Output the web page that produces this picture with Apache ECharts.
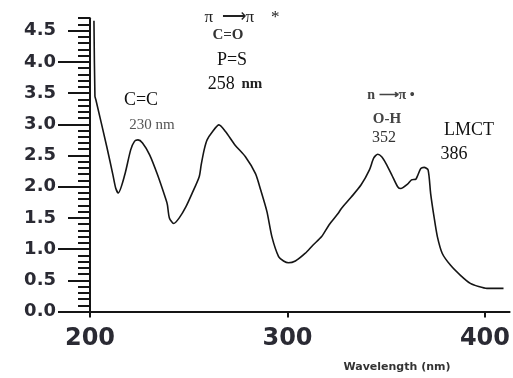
<!DOCTYPE html>
<html>
<head>
<meta charset="utf-8">
<script src="https://cdn.jsdelivr.net/npm/echarts@6/dist/echarts.min.js"></script>
<style>
  html, body { margin: 0; padding: 0; background: #fff; }
  #chart { width: 513px; height: 378px; }
</style>
</head>
<body>
<div id="chart"></div>
<script>
// UV-Vis absorption spectrum: wavelength (nm) vs absorbance
const wavelength = [
  202, 202.5, 203, 208.5, 211.6, 213, 214.3, 217.6, 220.6, 222.6, 224.3, 226.6,
  230.2, 234.2, 238.5, 239.2, 240.2, 242.4, 245.2, 248.6, 251.8, 255.3, 256.3,
  257.8, 259.3, 262.0, 265.3, 268.7, 273.4, 278.7, 283.8, 286.4, 289.6, 292.1,
  295.5, 298.0, 300.5, 304.0, 308.9, 313.1, 317.3, 321.1, 325.6, 327.3, 332.2,
  337.3, 341.5, 343.7, 345.7, 347.7, 349.9, 352.8, 355.8, 357.4, 360.8, 362.8,
  365.0, 365.8, 367.5, 369.2, 371.2, 372.5, 374.2, 375.9, 378.4, 382.6, 387.6,
  392.6, 396.8, 401.0, 409.4
];
const absorbance = [
  4.66, 3.45, 3.39, 2.64, 2.19, 1.98, 1.90, 2.19, 2.59, 2.73, 2.75, 2.70,
  2.51, 2.19, 1.79, 1.71, 1.50, 1.41, 1.50, 1.68, 1.90, 2.16, 2.35,
  2.59, 2.75, 2.88, 2.99, 2.88, 2.67, 2.48, 2.21, 1.95, 1.60, 1.20,
  0.88, 0.81, 0.78, 0.81, 0.93, 1.07, 1.20, 1.39, 1.57, 1.65, 1.83,
  2.03, 2.27, 2.46, 2.52, 2.48, 2.37, 2.19, 2.00, 1.97, 2.04, 2.11,
  2.12, 2.17, 2.29, 2.31, 2.27, 1.89, 1.52, 1.20, 0.93, 0.74, 0.58,
  0.45, 0.40, 0.37, 0.37
];
const xTicks = [200, 300, 400];
const yTicks = [0.0, 0.5, 1.0, 1.5, 2.0, 2.5, 3.0, 3.5, 4.0, 4.5];
const yWholeTicks = [0, 1, 2, 3, 4];

const xMin = 200, xMax = 412.5;
const yMin = 0, yMax = 4.7;

const points = wavelength.map((w, i) => [w, absorbance[i]]);

const chart = echarts.init(document.getElementById('chart'));
const ink = '#151515';
const labelInk = '#2a2a33';
const serif = '"Liberation Serif", "Times New Roman", serif';
const sans = '"DejaVu Sans", Verdana, sans-serif';

chart.setOption({
  backgroundColor: '#ffffff',
  animation: false,
  grid: { left: 90, right: 0, top: 18.2, bottom: 66.5 },
  xAxis: {
    type: 'value',
    min: xMin,
    max: xMax,
    interval: 100,
    axisLine: { show: true, lineStyle: { color: ink, width: 2 } },
    axisTick: { show: true, inside: false, length: 6, lineStyle: { color: ink, width: 2 },
                customValues: xTicks },
    axisLabel: {
      customValues: xTicks,
      margin: 15,
      fontSize: 24,
      fontWeight: 'bold',
      fontFamily: sans,
      color: labelInk
    },
    splitLine: { show: false }
  },
  yAxis: [
    {
      type: 'value',
      min: yMin,
      max: yMax,
      interval: 0.5,
      axisLine: { show: true, lineStyle: { color: ink, width: 2 } },
      axisTick: { show: true, inside: false, length: 22, lineStyle: { color: ink, width: 2 },
                  customValues: yTicks },
      axisLabel: {
        customValues: yTicks,
        margin: 34,
        fontSize: 18,
        fontWeight: 'bold',
        fontFamily: sans,
        color: labelInk,
        formatter: v => v.toFixed(1)
      },
      splitLine: { show: false }
    },
    {
      // longer ticks at whole units
      type: 'value',
      min: yMin,
      max: yMax,
      interval: 1,
      position: 'left',
      axisLine: { show: false },
      axisTick: { show: true, inside: false, length: 32, lineStyle: { color: ink, width: 2 },
                  customValues: yWholeTicks },
      axisLabel: { show: false },
      splitLine: { show: false }
    },
    {
      // short ticks every 0.1
      type: 'value',
      min: yMin,
      max: yMax,
      interval: 0.1,
      position: 'left',
      axisLine: { show: false },
      axisTick: { show: true, inside: false, length: 12, lineStyle: { color: ink, width: 2 } },
      axisLabel: { show: false },
      splitLine: { show: false }
    }
  ],
  series: [{
    type: 'line',
    data: points,
    showSymbol: false,
    smooth: 0.25,
    clip: true,
    lineStyle: { color: ink, width: 1.6 }
  }],
  graphic: [
    { type: 'text', x: 397, y: 367,
      style: { text: 'Wavelength (nm)', fontSize: 11, fontWeight: 'bold',
               fontFamily: sans, fill: '#333',
               align: 'center', verticalAlign: 'middle' } },
    { type: 'text', x: 242, y: 18,
      style: { text: 'π  ⟶π    *', fontSize: 17, fontFamily: serif, fill: '#222',
               align: 'center', verticalAlign: 'middle' } },
    { type: 'text', x: 228, y: 35,
      style: { text: 'C=O', fontSize: 15, fontWeight: 'bold', fontFamily: serif, fill: '#333',
               align: 'center', verticalAlign: 'middle' } },
    { type: 'text', x: 232, y: 60,
      style: { text: 'P=S', fontSize: 18, fontFamily: serif, fill: '#111',
               align: 'center', verticalAlign: 'middle' } },
    { type: 'text', x: 235, y: 84,
      style: { rich: {
                 n: { fontSize: 18, fontFamily: serif, fill: '#111' },
                 u: { fontSize: 15, fontWeight: 'bold', fontFamily: serif, fill: '#222' }
               },
               text: '{n|258}  {u|nm}', align: 'center', verticalAlign: 'middle' } },
    { type: 'text', x: 141, y: 100,
      style: { text: 'C=C', fontSize: 18, fontFamily: serif, fill: '#111',
               align: 'center', verticalAlign: 'middle' } },
    { type: 'text', x: 152, y: 125,
      style: { text: '230 nm', fontSize: 15, fontFamily: serif, fill: '#555',
               align: 'center', verticalAlign: 'middle' } },
    { type: 'text', x: 391, y: 95,
      style: { text: 'n ⟶π •', fontSize: 14, fontWeight: 'bold', fontFamily: serif, fill: '#444',
               align: 'center', verticalAlign: 'middle' } },
    { type: 'text', x: 387, y: 119,
      style: { text: 'O-H', fontSize: 15, fontWeight: 'bold', fontFamily: serif, fill: '#444',
               align: 'center', verticalAlign: 'middle' } },
    { type: 'text', x: 384, y: 138,
      style: { text: '352', fontSize: 16, fontFamily: serif, fill: '#333',
               align: 'center', verticalAlign: 'middle' } },
    { type: 'text', x: 469, y: 130,
      style: { text: 'LMCT', fontSize: 18, fontFamily: serif, fill: '#111',
               align: 'center', verticalAlign: 'middle' } },
    { type: 'text', x: 454, y: 154,
      style: { text: '386', fontSize: 18, fontFamily: serif, fill: '#111',
               align: 'center', verticalAlign: 'middle' } }
  ]
});
</script>
</body>
</html>
